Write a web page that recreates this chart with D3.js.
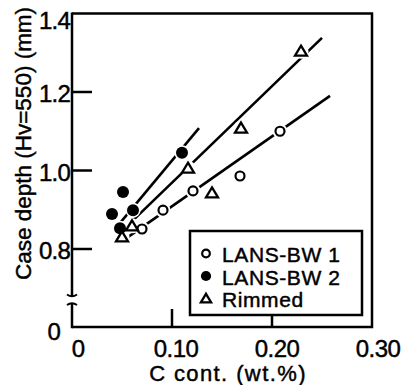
<!DOCTYPE html>
<html><head><meta charset="utf-8">
<script src="https://cdn.jsdelivr.net/npm/d3@7"></script>
<style>body{margin:0;background:#fff}svg{display:block}text{font-family:"Liberation Sans",Arial,sans-serif;fill:#000;stroke:#000;stroke-width:0.45}</style>
</head><body>
<svg id="c" width="403" height="385"></svg>
<script>
// ---- data ----
const seriesNames = ["LANS-BW 1", "LANS-BW 2", "Rimmed"];
const bw1X = [0.070, 0.091, 0.121, 0.168, 0.208];
const bw1Y = [0.851, 0.899, 0.948, 0.986, 1.100];
const bw2X = [0.040, 0.048, 0.051, 0.061, 0.110];
const bw2Y = [0.889, 0.853, 0.945, 0.899, 1.045];
const rimX = [0.050, 0.060, 0.116, 0.140, 0.169, 0.229];
const rimY = [0.831, 0.859, 1.006, 0.943, 1.108, 1.304];
// fitted lines [x0, y0, x1, y1]
const bw1Line = [[0.053, 0.825], [0.258, 1.190]];
const bw2Line = [[0.045, 0.857], [0.127, 1.108]];
const rimLine = [[0.048, 0.841], [0.250, 1.338]];
const xTicks = [0, 0.10, 0.20, 0.30];
const xTickLabels = ["0", "0.10", "0.20", "0.30"];
const yTicks = [0, 0.8, 1.0, 1.2, 1.4];
const yTickLabels = ["0", "0.8", "1.0", "1.2", "1.4"];

const svg = d3.select("#c");
const x = d3.scaleLinear().domain([0, 0.3]).range([72, 372]);
const y = d3.scaleLinear().domain([0, 0.8, 1.4]).range([327, 249, 13.5]);
const SW = 2.5;

// frame
const fr = svg.append("g").attr("stroke", "#000").attr("stroke-width", SW).attr("fill", "none");
fr.append("path").attr("d", `M${x(0)},${y(1.4)}H${x(0.3)}V${y(0)}H${x(0)}`);
// left axis with break
const bTop = 296, bBot = 303.5;
fr.append("line").attr("x1", x(0)).attr("x2", x(0)).attr("y1", y(1.4) - 1).attr("y2", bTop);
fr.append("line").attr("x1", x(0)).attr("x2", x(0)).attr("y1", bBot).attr("y2", y(0) + 1.2);
fr.append("path").attr("stroke-width", 2).attr("d", `M${x(0)-5},${bTop-1.5}Q${x(0)},${bTop+2} ${x(0)+5},${bTop-1.5}`);
fr.append("path").attr("stroke-width", 2).attr("d", `M${x(0)-5},${bBot+1.5}Q${x(0)},${bBot-2} ${x(0)+5},${bBot+1.5}`);

// y ticks
[0.8, 1.0, 1.2].forEach(v => {
  fr.append("line").attr("x1", x(0)).attr("x2", x(0) + 20).attr("y1", y(v)).attr("y2", y(v));
});
// x ticks
[0.10, 0.20].forEach(v => {
  fr.append("line").attr("x1", x(v)).attr("x2", x(v)).attr("y1", y(0)).attr("y2", y(0) - 18);
});

// tick labels
yTicks.forEach((v, i) => {
  const zero = v === 0;
  svg.append("text").attr("x", zero ? 60 : 70).attr("y", y(v) + (zero ? 13 : (v === 1.4 ? 15 : 10)))
    .attr("text-anchor", "end").attr("font-size", 24).attr("letter-spacing", -0.8).text(yTickLabels[i]);
});
xTicks.forEach((v, i) => {
  svg.append("text").attr("x", x(v) + (v === 0 ? 6 : 3 + v * 10)).attr("y", 357)
    .attr("text-anchor", "middle").attr("font-size", 24).attr("letter-spacing", -0.6).text(xTickLabels[i]);
});

// axis titles
svg.append("text").attr("transform", "translate(31,143.5) rotate(-90)").attr("text-anchor", "middle")
  .attr("font-size", 22.5).text("Case depth (Hv=550) (mm)");
svg.append("text").attr("x", 228).attr("y", 381).attr("text-anchor", "middle")
  .attr("font-size", 22).attr("letter-spacing", 1.4).text("C cont. (wt.%)");

// fitted lines
const lineGen = d3.line().x(d => x(d[0])).y(d => y(d[1]));
[bw1Line, bw2Line, rimLine].forEach(l => {
  svg.append("path").attr("d", lineGen(l)).attr("stroke", "#000").attr("stroke-width", 2.6).attr("fill", "none");
});

// markers
const tri = (cx, cy, s) => `M${cx},${cy - s * 0.55}L${cx + s * 0.6},${cy + s * 0.45}L${cx - s * 0.6},${cy + s * 0.45}Z`;
const pts = [];
bw1X.forEach((v, i) => pts.push({ t: 0, x: v, y: bw1Y[i] }));
bw2X.forEach((v, i) => pts.push({ t: 1, x: v, y: bw2Y[i] }));
rimX.forEach((v, i) => pts.push({ t: 2, x: v, y: rimY[i] }));
// halos
pts.forEach(p => {
  svg.append("circle").attr("cx", x(p.x)).attr("cy", y(p.y)).attr("r", 7.5).attr("fill", "#fff");
});
function marker(g, t, cx, cy, k) {
  if (t === 0) g.append("circle").attr("cx", cx).attr("cy", cy).attr("r", 4.5 * k).attr("fill", "#fff").attr("stroke", "#000").attr("stroke-width", 2.2);
  else if (t === 1) g.append("circle").attr("cx", cx).attr("cy", cy).attr("r", 6 * k).attr("fill", "#000");
  else g.append("path").attr("d", tri(cx, cy, 10 * k)).attr("fill", "#fff").attr("stroke", "#000").attr("stroke-width", 2.3).attr("stroke-linejoin", "miter");
}
pts.forEach(p => marker(svg, p.t, x(p.x), y(p.y), 1));

// legend
const lg = svg.append("g");
lg.append("rect").attr("x", 190).attr("y", 231).attr("width", 172).attr("height", 84)
  .attr("fill", "#fff").attr("stroke", "#000").attr("stroke-width", SW);
const baselines = [262, 284.5, 307];
seriesNames.forEach((n, i) => {
  marker(lg, i, 206, baselines[i] - 8.5, 0.85);
  lg.append("text").attr("x", 222).attr("y", baselines[i]).attr("font-size", 21).attr("letter-spacing", 0.6).text(n);
});
</script>
</body></html>
